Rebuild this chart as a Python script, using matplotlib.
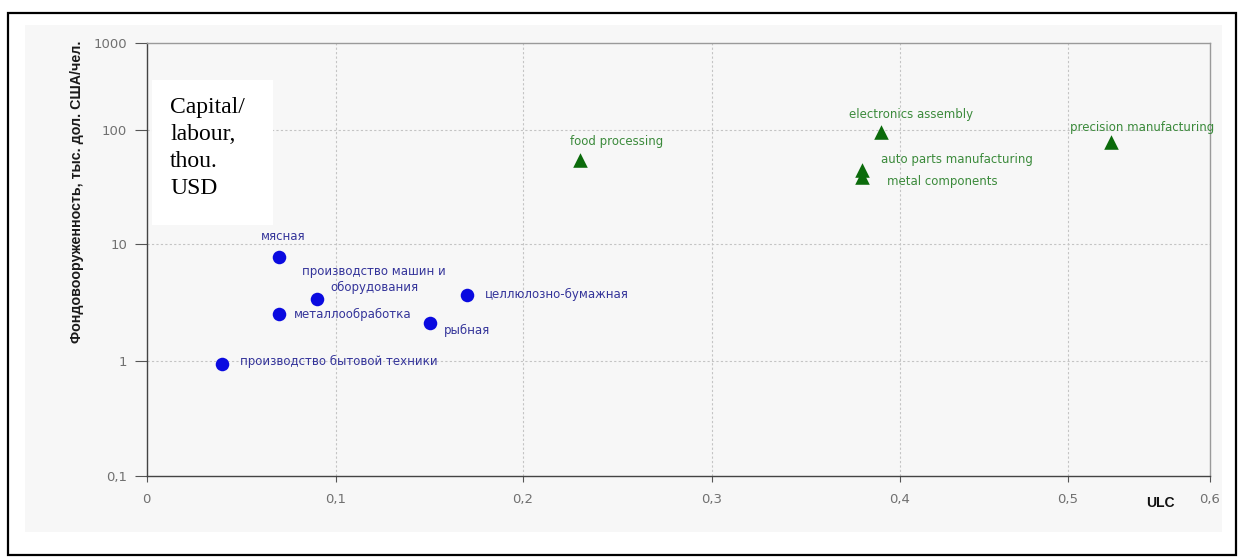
import numpy as np
import matplotlib
matplotlib.use("Agg")
import matplotlib.pyplot as plt
from matplotlib.patches import Rectangle

# ---------------- data ----------------
ru_names = ["мясная", "производство машин и\nоборудования", "металлообработка",
            "рыбная", "целлюлозно-бумажная", "производство бытовой техники"]
ru_ulc = [0.07, 0.09, 0.07, 0.15, 0.17, 0.04]
ru_cap = [7.8, 3.4, 2.5, 2.1, 3.7, 0.94]

intl_names = ["food processing", "electronics assembly", "precision manufacturing",
              "auto parts manufacturing", "metal components"]
intl_ulc = [0.23, 0.39, 0.53, 0.38, 0.38]
intl_cap = [55, 97, 78, 45, 39]

x_ticks = [0, 0.1, 0.2, 0.3, 0.4, 0.5, 0.6]
x_ticklabels = ["0", "0,1", "0,2", "0,3", "0,4", "0,5", "0,6"]
y_ticks = [0.1, 1, 10, 100, 1000]
y_ticklabels = ["0,1", "1", "10", "100", "1000"]

y_label = "Фондовооруженность, тыс. дол. США/чел."
x_label = "ULC"
box_text = "Capital/\nlabour,\nthou.\nUSD"

# ---------------- layout helpers ----------------
W, H = 1238, 557
fig = plt.figure(figsize=(W / 100, H / 100), dpi=100)
fig.patch.set_facecolor("white")

def fx(px):
    return px / W

def fy(py):
    return 1 - py / H

# outer frame and light panel (behind the axes)
fig.patches.append(Rectangle((fx(8), fy(555)), fx(1236) - fx(8), fy(13) - fy(555),
                             transform=fig.transFigure, fill=False,
                             edgecolor="black", linewidth=1.6, zorder=-2))
fig.patches.append(Rectangle((fx(25), fy(532)), fx(1222) - fx(25), fy(25) - fy(532),
                             transform=fig.transFigure, facecolor="#f7f7f7",
                             edgecolor="none", zorder=-3))

ax_l, ax_r, ax_t, ax_b = 146.7, 1210, 43, 476
ax = fig.add_axes([fx(ax_l), fy(ax_b), fx(ax_r) - fx(ax_l), fy(ax_t) - fy(ax_b)])
ax.set_facecolor("none")
ax.set_zorder(1)

# piecewise scales matching the (non-uniform) reference rendering
x_px = [146.7, 336, 523, 712, 900, 1068, 1210]
ylog_ref = [-1, 0, 1, 2, 3]
y_px = [-476, -361, -244, -130, -43]

def pw(v, a, b):
    v = np.asarray(v, dtype=float)
    out = np.interp(v, a, b)
    out = np.where(v < a[0], b[0] + (v - a[0]) * (b[1] - b[0]) / (a[1] - a[0]), out)
    out = np.where(v > a[-1], b[-1] + (v - a[-1]) * (b[-1] - b[-2]) / (a[-1] - a[-2]), out)
    return out

ax.set_xscale("function", functions=(lambda v: pw(v, x_ticks, x_px),
                                     lambda p: pw(p, x_px, x_ticks)))
ax.set_yscale("function", functions=(
    lambda v: pw(np.log10(np.clip(np.asarray(v, dtype=float), 1e-12, None)), ylog_ref, y_px),
    lambda p: 10 ** pw(p, y_px, ylog_ref)))

ax.set_xlim(0, 0.6)
ax.set_ylim(0.1, 1000)

# grid
for xv in x_ticks[1:-1]:
    ax.axvline(xv, color="#c4c4c4", lw=0.8, ls=(0, (2, 2)), zorder=1)
for yv in y_ticks[1:-1]:
    ax.axhline(yv, color="#c4c4c4", lw=0.8, ls=(0, (2, 2)), zorder=1)

# series
ax.scatter(ru_ulc, ru_cap, s=95, marker="o", color="#0a0ae0", zorder=3, linewidths=0)
ax.scatter(intl_ulc, intl_cap, s=110, marker="^", color="#0b6b0b", zorder=3, linewidths=0)

# labels (offsets in pixels)
ru_offsets = [(4, 20, "center"), (57, 19, "center"), (15, 0, "left"),
              (14, -7, "left"), (18, 0, "left"), (18, 3, "left")]
intl_offsets = [(37, 18, "center"), (30, 17, "center"), (32, 15, "center"),
                (19, 10, "left"), (25, -5, "left")]

for name, xv, yv, (dx, dy, ha) in zip(ru_names, ru_ulc, ru_cap, ru_offsets):
    ax.annotate(name, (xv, yv), xytext=(dx, dy), textcoords="offset pixels",
                ha=ha, va="center", multialignment="center", fontsize=8.5,
                color="#34349a", family="DejaVu Sans", linespacing=1.3, zorder=4)
for name, xv, yv, (dx, dy, ha) in zip(intl_names, intl_ulc, intl_cap, intl_offsets):
    ax.annotate(name, (xv, yv), xytext=(dx, dy), textcoords="offset pixels",
                ha=ha, va="center", fontsize=8.5, color="#3b8a3b",
                family="DejaVu Sans", zorder=4)

# ticks and spines
ax.set_xticks(x_ticks)
ax.set_xticklabels(x_ticklabels)
ax.set_yticks(y_ticks)
ax.set_yticklabels(y_ticklabels)
ax.minorticks_off()
ax.tick_params(axis="x", direction="out", length=4, width=0.8, color="#555555",
               labelcolor="#707070", labelsize=9.5, pad=8)
ax.tick_params(axis="y", direction="out", length=9, width=0.8, color="#555555",
               labelcolor="#707070", labelsize=9.5, pad=5)
for s in ["left", "bottom"]:
    ax.spines[s].set_color("#444444")
    ax.spines[s].set_linewidth(1.0)
for s in ["top", "right"]:
    ax.spines[s].set_color("#9a9a9a")
    ax.spines[s].set_linewidth(1.0)

# axis titles
fig.text(fx(77), fy(192), y_label, rotation=90, ha="center", va="center",
         fontsize=10.3, fontweight="bold", color="#1a1a1a", family="Liberation Sans")
fig.text(fx(1160), fy(503), x_label, ha="center", va="center", fontsize=10,
         fontweight="bold", color="#111111", family="Liberation Sans")

# white annotation box (above the axes)
fig.patches.append(Rectangle((fx(152), fy(225)), fx(273) - fx(152), fy(80) - fy(225),
                             transform=fig.transFigure, facecolor="white",
                             edgecolor="none", zorder=5))
fig.text(fx(170), fy(97), box_text, ha="left", va="top", fontsize=17,
         family="Liberation Serif", color="black", linespacing=1.38, zorder=6)

fig.savefig("out.png", dpi=100)
